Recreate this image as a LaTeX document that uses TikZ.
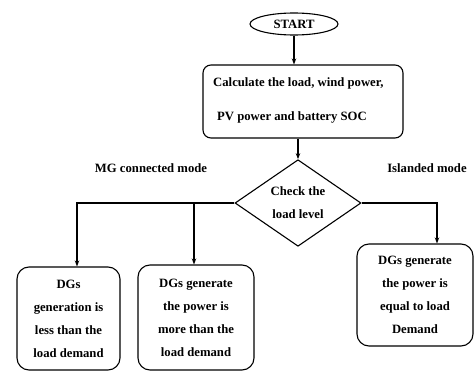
\documentclass[tikz,border=0pt]{standalone}
\usepackage{fontspec}
\setmainfont{Liberation Serif}[BoldFont={Liberation Serif Bold}]
\newfontfamily\boldserif{Liberation Serif Bold}
\usetikzlibrary{shapes.geometric,arrows.meta}
\begin{document}
\begin{tikzpicture}[x=1pt,y=1pt,
  every node/.style={font=\boldserif\fontsize{12.7}{23}\selectfont},
  arr/.style={line width=1.1pt,-{Stealth[length=6pt,width=4.5pt]}},
  rbox/.style={draw,line width=1.1pt,rounded corners=12pt,align=center,inner sep=0pt},
  txt/.style={inner sep=0pt}]
\useasboundingbox (0,0) rectangle (475,-372);
\node[draw,ellipse,line width=1.1pt,minimum width=88pt,minimum height=22pt,inner sep=0pt] (start) at (294,-24) {START};
\node[draw,line width=1.1pt,rounded corners=8pt,minimum width=200pt,minimum height=73pt,inner sep=0pt] (calc) at (303,-101.5) {};
\node[txt,anchor=base west] (c1) at (213,-86) {Calculate the load, wind power,};
\node[txt,anchor=base west] (c2) at (217,-121) {PV power and battery SOC};
\node[draw,diamond,line width=1.1pt,minimum width=126pt,minimum height=80pt,inner sep=0pt,align=center] (chk) at (298,-203) {Check the\\load level};
\node[txt] (mg) at (151,-168) {MG connected mode};
\node[txt] (isl) at (427,-168) {Islanded mode};
\node[rbox,minimum width=103pt,minimum height=103pt] (lb) at (68.5,-318.5) {DGs\\generation is\\less than the\\load demand};
\node[rbox,minimum width=116pt,minimum height=105pt] (mb) at (196,-317.5) {DGs generate\\the power is\\more than the\\load demand};
\node[rbox,minimum width=116pt,minimum height=102pt] (rb) at (415,-295) {DGs generate\\the power is\\equal to load\\Demand};
\coordinate (jl) at (77,-203);
\coordinate (jm) at (194,-203);
\coordinate (jr) at (437,-203);
\draw[arr] (start.south) -- (start.south |- calc.north);
\draw[arr] (chk.north |- calc.south) -- (chk.north);
\draw[arr] (chk.west) -- (jl) -- (jl |- lb.north);
\draw[arr] (jm) -- (jm |- mb.north);
\draw[arr] (chk.east) -- (jr) -- (jr |- rb.north);
\end{tikzpicture}
\end{document}
